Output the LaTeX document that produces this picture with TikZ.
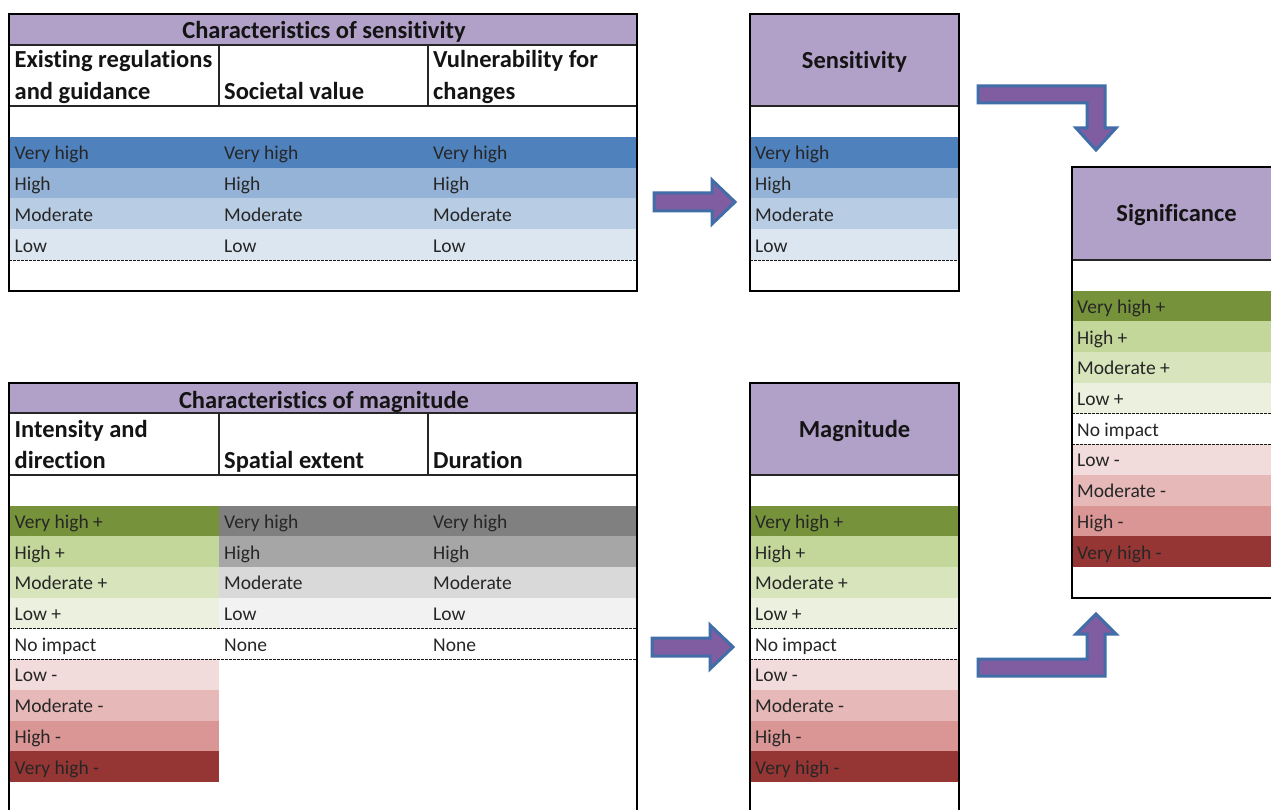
\documentclass[tikz,border=0pt]{standalone}
\usepackage{fontspec}
\setmainfont{Carlito}[Ligatures=NoCommon]
\definecolor{hdr}{HTML}{B1A0C7}
\definecolor{blA}{HTML}{4F81BD}
\definecolor{blB}{HTML}{95B3D7}
\definecolor{blC}{HTML}{B8CCE4}
\definecolor{blD}{HTML}{DCE6F1}
\definecolor{grA}{HTML}{76933C}
\definecolor{grB}{HTML}{C4D79B}
\definecolor{grC}{HTML}{D8E4BC}
\definecolor{grD}{HTML}{EBF1DE}
\definecolor{rdA}{HTML}{F2DCDB}
\definecolor{rdB}{HTML}{E6B8B7}
\definecolor{rdC}{HTML}{DA9694}
\definecolor{rdD}{HTML}{963634}
\definecolor{gyA}{HTML}{808080}
\definecolor{gyB}{HTML}{A6A6A6}
\definecolor{gyC}{HTML}{D9D9D9}
\definecolor{gyD}{HTML}{F2F2F2}
\definecolor{arrfill}{HTML}{805CA0}
\definecolor{arrline}{HTML}{416DA8}
\newcommand\rowfont{\fontsize{19.5}{23}\selectfont}
\newcommand\hdfont{\fontsize{24.5}{29}\selectfont\bfseries}
\tikzset{
  lab/.style={anchor=base west, inner sep=0pt, font=\rowfont, text=black!85},
  hd/.style={inner sep=0pt, font=\hdfont, text=black!92},
  hdl/.style={hd, anchor=base west},
  outerline/.style={draw=black, line width=2pt},
  innerline/.style={draw=black!85, line width=1.2pt},
  dashline/.style={draw=black!90, line width=1.3pt, dash pattern=on 2.5pt off 1.5pt},
  blockarrow/.style={fill=arrfill, draw=arrline, line width=3pt, line join=miter}
}
\begin{document}
\begin{tikzpicture}[x=1pt,y=-1pt]
\useasboundingbox (0,0) rectangle (1271,810);
\clip (0,0) rectangle (1271,810);
\fill[white] (0,0) rectangle (1271,810);

% ---------- Top table: characteristics of sensitivity ----------
\fill[hdr] (9,14) rectangle (637,45);
\fill[blA] (9,136.8) rectangle (637,167.7);
\fill[blB] (9,167.7) rectangle (637,198.5);
\fill[blC] (9,198.5) rectangle (637,229.3);
\fill[blD] (9,229.3) rectangle (637,260.2);
\draw[dashline] (9,260.2) -- (637,260.2);
\draw[innerline] (9,45) -- (637,45) (9,106) -- (637,106) (219,45) -- (219,106) (428,45) -- (428,106);
\draw[outerline] (9,14) rectangle (637,291);
\node[hd, anchor=base] (stitle) at (324,39) {Characteristics of sensitivity};
\node[hdl] (sh1a) at (14.5,68) {Existing regulations};
\node[hdl] (sh1b) at (14.5,100) {and guidance};
\node[hdl] (sh2) at (224,100) {Societal value};
\node[hdl] (sh3a) at (433,68) {Vulnerability for};
\node[hdl] (sh3b) at (433,100) {changes};
\foreach \xx/\cc in {14.5/a,224/b,433/c}{
  \node[lab] (s1\cc) at (\xx,160) {Very high};
  \node[lab] (s2\cc) at (\xx,190.5) {High};
  \node[lab] (s3\cc) at (\xx,221.3) {Moderate};
  \node[lab] (s4\cc) at (\xx,252.2) {Low};
}

% ---------- Sensitivity box ----------
\fill[hdr] (750,14) rectangle (959,106);
\fill[blA] (750,136.8) rectangle (959,167.7);
\fill[blB] (750,167.7) rectangle (959,198.5);
\fill[blC] (750,198.5) rectangle (959,229.3);
\fill[blD] (750,229.3) rectangle (959,260.2);
\draw[dashline] (750,260.2) -- (959,260.2);
\draw[innerline] (750,106) -- (959,106);
\draw[outerline] (750,14) rectangle (959,291);
\node[hd] (sens) at (854.5,62) {Sensitivity};
\node[lab] (sv1) at (755,160) {Very high};
\node[lab] (sv2) at (755,190.5) {High};
\node[lab] (sv3) at (755,221.3) {Moderate};
\node[lab] (sv4) at (755,252.2) {Low};

% ---------- Bottom table: characteristics of magnitude ----------
\fill[hdr] (9,383) rectangle (637,413);
\fill[grA] (9,505.7) rectangle (219,536.4);
\fill[grB] (9,536.4) rectangle (219,567.1);
\fill[grC] (9,567.1) rectangle (219,597.8);
\fill[grD] (9,597.8) rectangle (219,628.5);
\fill[gyA] (219,505.7) rectangle (637,536.4);
\fill[gyB] (219,536.4) rectangle (637,567.1);
\fill[gyC] (219,567.1) rectangle (637,597.8);
\fill[gyD] (219,597.8) rectangle (637,628.5);
\fill[rdA] (9,659.2) rectangle (219,689.9);
\fill[rdB] (9,689.9) rectangle (219,720.6);
\fill[rdC] (9,720.6) rectangle (219,751.3);
\fill[rdD] (9,751.3) rectangle (219,782);
\draw[dashline] (9,628.5) -- (637,628.5) (9,659.2) -- (637,659.2);
\draw[innerline] (9,413) -- (637,413) (9,475) -- (637,475) (219,413) -- (219,475) (428,413) -- (428,475);
\draw[outerline] (9,815) -- (9,383) -- (637,383) -- (637,815);
\node[hd, anchor=base] (mtitle) at (324,408) {Characteristics of magnitude};
\node[hdl] (mh1a) at (14.5,437) {Intensity and};
\node[hdl] (mh1b) at (14.5,468) {direction};
\node[hdl] (mh2) at (224,468) {Spatial extent};
\node[hdl] (mh3) at (433,468) {Duration};
\node[lab] (m1a) at (14.5,528.4) {Very high +};
\node[lab] (m2a) at (14.5,559.1) {High +};
\node[lab] (m3a) at (14.5,589.8) {Moderate +};
\node[lab] (m4a) at (14.5,620.5) {Low +};
\node[lab] (m5a) at (14.5,651.2) {No impact};
\node[lab] (m6a) at (14.5,681.9) {Low -};
\node[lab] (m7a) at (14.5,712.6) {Moderate -};
\node[lab] (m8a) at (14.5,743.3) {High -};
\node[lab] (m9a) at (14.5,774) {Very high -};
\foreach \xx/\cc in {224/b,433/c}{
  \node[lab] (m1\cc) at (\xx,528.4) {Very high};
  \node[lab] (m2\cc) at (\xx,559.1) {High};
  \node[lab] (m3\cc) at (\xx,589.8) {Moderate};
  \node[lab] (m4\cc) at (\xx,620.5) {Low};
  \node[lab] (m5\cc) at (\xx,651.2) {None};
}

% ---------- Magnitude box ----------
\fill[hdr] (750,383) rectangle (959,475);
\fill[grA] (750,505.7) rectangle (959,536.4);
\fill[grB] (750,536.4) rectangle (959,567.1);
\fill[grC] (750,567.1) rectangle (959,597.8);
\fill[grD] (750,597.8) rectangle (959,628.5);
\fill[rdA] (750,659.2) rectangle (959,689.9);
\fill[rdB] (750,689.9) rectangle (959,720.6);
\fill[rdC] (750,720.6) rectangle (959,751.3);
\fill[rdD] (750,751.3) rectangle (959,782);
\draw[dashline] (750,628.5) -- (959,628.5) (750,659.2) -- (959,659.2);
\draw[innerline] (750,475) -- (959,475);
\draw[outerline] (750,815) -- (750,383) -- (959,383) -- (959,815);
\node[hd] (magn) at (854.5,431) {Magnitude};
\node[lab] (g1) at (755,528.4) {Very high +};
\node[lab] (g2) at (755,559.1) {High +};
\node[lab] (g3) at (755,589.8) {Moderate +};
\node[lab] (g4) at (755,620.5) {Low +};
\node[lab] (g5) at (755,651.2) {No impact};
\node[lab] (g6) at (755,681.9) {Low -};
\node[lab] (g7) at (755,712.6) {Moderate -};
\node[lab] (g8) at (755,743.3) {High -};
\node[lab] (g9) at (755,774) {Very high -};

% ---------- Significance box ----------
\fill[hdr] (1072,167) rectangle (1281,260);
\fill[grA] (1072,290.7) rectangle (1281,321.4);
\fill[grB] (1072,321.4) rectangle (1281,352.1);
\fill[grC] (1072,352.1) rectangle (1281,382.8);
\fill[grD] (1072,382.8) rectangle (1281,413.5);
\fill[rdA] (1072,444.2) rectangle (1281,474.9);
\fill[rdB] (1072,474.9) rectangle (1281,505.6);
\fill[rdC] (1072,505.6) rectangle (1281,536.3);
\fill[rdD] (1072,536.3) rectangle (1281,567);
\draw[dashline] (1072,413.5) -- (1281,413.5) (1072,444.2) -- (1281,444.2);
\draw[innerline] (1072,260) -- (1281,260);
\draw[outerline] (1072,167) rectangle (1281,597.7);
\node[hd] (signif) at (1176.5,215) {Significance};
\node[lab] (z1) at (1077,313.4) {Very high +};
\node[lab] (z2) at (1077,344.1) {High +};
\node[lab] (z3) at (1077,374.8) {Moderate +};
\node[lab] (z4) at (1077,405.5) {Low +};
\node[lab] (z5) at (1077,436.2) {No impact};
\node[lab] (z6) at (1077,466.9) {Low -};
\node[lab] (z7) at (1077,497.6) {Moderate -};
\node[lab] (z8) at (1077,528.3) {High -};
\node[lab] (z9) at (1077,559) {Very high -};

% ---------- Block arrows ----------
\draw[blockarrow] (654,193) -- (712,193) -- (712,180) -- (735,202) -- (712,224) -- (712,211) -- (654,211) -- cycle;
\draw[blockarrow] (652,638) -- (710,638) -- (710,625) -- (733,647) -- (710,669) -- (710,656) -- (652,656) -- cycle;
\draw[blockarrow] (978,86) -- (1105,86) -- (1105,128) -- (1116,128) -- (1096,150) -- (1076,128) -- (1087,128) -- (1087,103) -- (978,103) -- cycle;
\draw[blockarrow] (978,676) -- (1105,676) -- (1105,634) -- (1116,634) -- (1096,614) -- (1076,634) -- (1087,634) -- (1087,659) -- (978,659) -- cycle;
\end{tikzpicture}
\end{document}
